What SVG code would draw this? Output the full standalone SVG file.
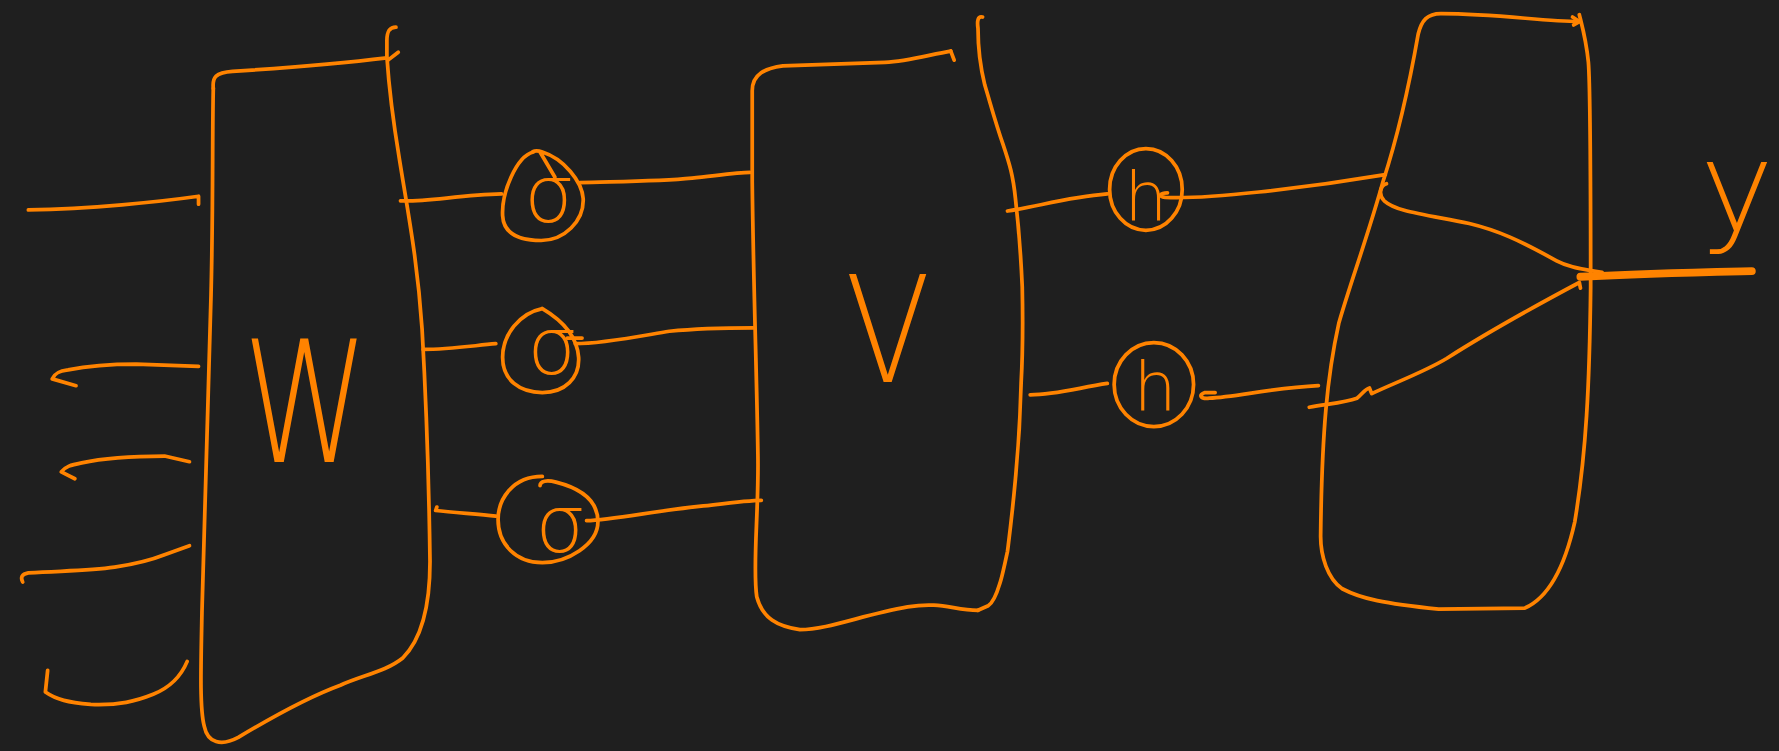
<svg xmlns="http://www.w3.org/2000/svg" width="1779" height="751" viewBox="0 0 1779 751">
<style>
.s{fill:none;stroke:#ff8300;stroke-width:3.3;stroke-linecap:round;stroke-linejoin:round}
.thick{stroke-width:7}
.t{fill:#ff8300;font-family:"DejaVu Sans","Liberation Sans",sans-serif;font-weight:200}
</style>
<rect width="1779" height="751" fill="#1f1f1f"/>
<g transform="scale(1.13457,1.13444)">
<g id="inputs">
<path class="s" d="M25,185 C80,184 140,178 175,173 L175,180"/>
<path class="s" d="M67,340 L46,334 C48,329 52,327 60,326 C80,322 100,321 120,321 L175,323"/>
<path class="s" d="M66,422 L54,416 C58,411 62,410 72,408 C90,404 110,402 145,402 L167,407"/>
<path class="s" d="M20,513 C18,509 19,506 25,505 C60,503 80,503 101,500 C120,497 135,493 145,489 L167,481"/>
<path class="s" d="M42,591 L40,610 C50,617 60,619 80,621 C105,622 120,618 135,612 C150,606 160,595 165,583"/>
</g>
<g id="node-W">
<path class="s" d="M188,78 C187,68 190,64 205,63 C250,60 300,56 341,51"/>
<path class="s" d="M349,24 C343,24 341,28 341,36 L341,50 C343,80 347,110 352,140 C360,190 368,230 372,290 C376,360 378,420 379,495 C379,540 370,565 355,580 C340,592 320,595 300,604 C270,615 235,635 210,650 C195,658 183,655 180,640 C176,625 177,590 178,540 C180,440 184,350 186,260 C188,180 187,120 188,78"/>
<path class="s" d="M342,53 L351,46"/>
<text class="t" x="214" y="407" font-size="150" textLength="111" lengthAdjust="spacingAndGlyphs">W</text>
</g>
<g id="node-s1">
<path class="s" d="M470,134 C455,138 442,170 443,190 C444,208 460,212 477,212 C497,212 515,195 514,175 C513,160 497,140 478,134 C472,132 468,134 470,134 M476,134 L489,156"/>
<text class="t" x="484" y="196" font-size="70" text-anchor="middle">σ</text>
</g>
<g id="node-s2">
<path class="s" d="M478,272 C458,276 443,295 443,315 C443,335 458,346 478,346 C498,346 511,333 510,315 C509,300 500,285 478,272"/>
<text class="t" x="487" y="330" font-size="70" text-anchor="middle">σ</text>
</g>
<g id="node-s3">
<path class="s" d="M478,420 C452,420 439,440 439,458 C439,480 455,496 478,496 C500,496 527,480 527,460 C527,440 510,430 490,425 C482,423 476,424 476,428"/>
<text class="t" x="494" y="487" font-size="70" text-anchor="middle">σ</text>
</g>
<g id="node-V">
<path class="s" d="M838,45 C820,48 800,54 780,55 L690,58 C675,60 663,65 663,80 C663,100 663,130 663,160 C664,250 667,330 668,400 C669,450 663,500 667,526 C672,545 685,552 705,555 C730,555 760,542 800,535 C830,530 840,538 862,538"/>
<path class="s" d="M838,45 L841,53"/>
<path class="s" d="M866,15 C862,14 861,18 862,25 C862,40 863,55 868,75 C874,95 878,110 884,127 C890,145 893,155 895,175 C899,210 900,230 901,253 C902,300 901,320 900,338 C899,380 897,400 895,422 C892,455 890,470 888,486 C885,500 883,510 881,515 C878,525 874,532 871,534 L862,538"/>
<text class="t" x="745" y="337" font-size="130" textLength="75" lengthAdjust="spacingAndGlyphs">V</text>
</g>
<g id="node-h1">
<ellipse class="s" cx="1010" cy="167" rx="32" ry="36"/>
<text class="t" x="1010" y="195" font-size="60" text-anchor="middle">h</text>
</g>
<g id="node-h2">
<ellipse class="s" cx="1017" cy="339" rx="35" ry="37"/>
<text class="t" x="1018" y="362" font-size="60" text-anchor="middle">h</text>
</g>
<g id="node-out">
<path class="s" d="M1392,19 C1360,19 1320,12 1270,12 C1258,12 1253,18 1250,30 C1243,70 1232,120 1219,160 C1205,210 1190,250 1180,285 C1170,330 1165,380 1164,473 C1164,490 1170,510 1183,519 C1200,528 1220,532 1268,537 L1344,536 C1362,528 1378,505 1388,460 C1398,400 1401,340 1402,253 C1402,150 1402,80 1400,55 C1398,35 1395,25 1392,13"/>
<path class="s" d="M1386,15 L1392,19 L1387,22"/>
</g>
<g id="node-y">
<text class="t" x="1531" y="203" font-size="110" text-anchor="middle">y</text>
</g>
<g id="connectors">
<path class="s" d="M353,177 C375,178 405,172 442,171"/>
<path class="s" d="M373,308 C395,308 415,305 437,303"/>
<path class="s" d="M385,447 L384,450 C400,452 420,453 437,455"/>
<path class="s" d="M511,161 C540,160 580,160 610,157 C630,155 650,152 661,152"/>
<path class="s" d="M500,298 L513,298 M507,303 C530,303 560,297 590,292 C620,289 645,289 664,289"/>
<path class="s" d="M517,459 C540,458 580,450 620,446 C645,443 660,441 671,441"/>
<path class="s" d="M888,186 C915,182 940,174 976,171"/>
<path class="s" d="M908,348 C930,348 950,342 976,338"/>
<path class="s" d="M1029,170 C1023,170 1020,173 1027,174 C1060,176 1150,166 1221,154"/>
<path class="s" d="M1071,346 L1062,346 C1056,348 1058,352 1066,351 C1090,350 1120,342 1162,340"/>
<path class="s" d="M1222,162 C1216,164 1215,172 1220,177 C1230,186 1250,188 1295,197 C1320,203 1340,212 1372,230 C1385,237 1400,238 1412,240"/>
<path class="s" d="M1154,359 C1170,356 1185,355 1196,351 C1200,348 1203,343 1207,342 L1209,347 C1230,337 1255,328 1275,316 C1300,300 1330,282 1392,249 L1393,254"/>
<path class="s thick" d="M1393,244 C1450,241 1500,240 1544,239"/>
</g>
</g>
</svg>
